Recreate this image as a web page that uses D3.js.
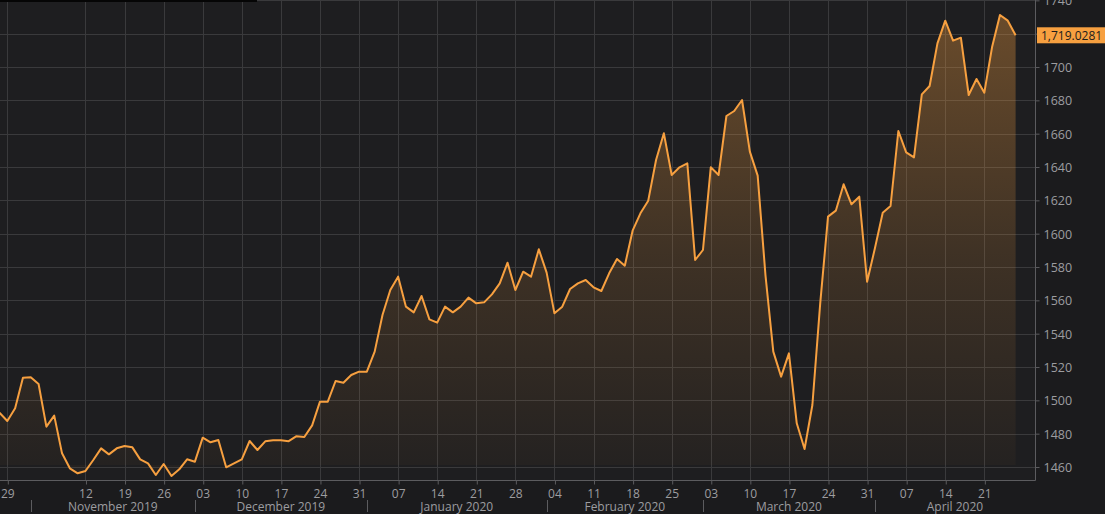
<!DOCTYPE html>
<html>
<head>
<meta charset="utf-8">
<script src="https://cdn.jsdelivr.net/npm/d3@7"></script>
<style>
  html, body { margin: 0; padding: 0; background: #1c1c1e; }
  svg { display: block; }
  text { font-family: "Open Sans", "Liberation Sans", sans-serif; }
</style>
</head>
<body>
<svg id="chart" width="1105" height="514"></svg>
<script>
// ---- data (trading days 28 Oct 2019 .. 27 Apr 2020) ----
const startDate = "2019-10-28";
const endDate = "2020-04-27";
const prices = [
  1492.6, 1487.6, 1495.2, 1513.6, 1513.8, 1509.8, 1484.2, 1490.8, 1468.2, 1459.2,
  1456.2, 1457.6, 1464.2, 1471.2, 1467.6, 1471.2, 1472.6, 1471.8, 1464.6, 1462.2,
  1455.2, 1461.8, 1454.6, 1458.6, 1464.6, 1463.2, 1477.6, 1474.8, 1476.2, 1459.8,
  1462.2, 1464.6, 1475.6, 1470.2, 1475.4, 1476.0, 1476.0, 1475.5, 1478.5, 1478.0,
  1485.0, 1499.2, 1499.2, 1511.6, 1510.6, 1515.2, 1517.2, 1517.2, 1529.2, 1551.2,
  1566.2, 1574.2, 1556.2, 1552.8, 1562.6, 1548.6, 1546.6, 1556.2, 1552.8, 1556.2,
  1561.6, 1558.2, 1558.8, 1563.6, 1570.2, 1582.6, 1566.2, 1577.2, 1574.2, 1590.6,
  1576.6, 1552.2, 1556.2, 1566.8, 1570.2, 1572.2, 1567.8, 1565.6, 1576.2, 1584.8,
  1580.8, 1601.8, 1612.2, 1619.8, 1644.2, 1660.2, 1635.2, 1639.8, 1642.2, 1584.2,
  1590.2, 1639.8, 1635.2, 1670.6, 1673.6, 1680.2, 1649.2, 1634.8, 1575.0, 1529.2,
  1514.2, 1528.2, 1486.2, 1470.8, 1497.2, 1558.0, 1610.2, 1613.8, 1629.6, 1617.6,
  1622.2, 1571.2, 1591.2, 1612.6, 1616.6, 1661.6, 1648.8, 1645.8, 1683.6, 1688.6,
  1714.2, 1727.8, 1715.8, 1717.6, 1683.2, 1692.8, 1684.6, 1712.2, 1731.2, 1727.8,
  1719.0281
];
const lastPriceLabel = "1,719.0281";
const yTicks = [1460, 1480, 1500, 1520, 1540, 1560, 1580, 1600, 1620, 1640, 1660, 1680, 1700, 1720, 1740];
const hiddenYLabels = [1720]; // covered by the last-price tag in the reference
const xTickDates = ["2019-10-29", "2019-11-12", "2019-11-19", "2019-11-26", "2019-12-03", "2019-12-10",
  "2019-12-17", "2019-12-24", "2019-12-31", "2020-01-07", "2020-01-14", "2020-01-21", "2020-01-28",
  "2020-02-04", "2020-02-11", "2020-02-18", "2020-02-25", "2020-03-03", "2020-03-10", "2020-03-17",
  "2020-03-24", "2020-03-31", "2020-04-07", "2020-04-14", "2020-04-21"];
const monthStarts = ["2019-11-01", "2019-12-02", "2020-01-01", "2020-02-03", "2020-03-02", "2020-04-01"];
const monthLabels = ["November 2019", "December 2019", "January 2020", "February 2020", "March 2020", "April 2020"];

// ---- layout ----
const W = 1105, H = 514;
const plotLeft = 0, plotRight = 1035, plotTop = 0, plotBottom = 480;
const parse = d3.utcParse("%Y-%m-%d");
const fmtKey = d3.utcFormat("%Y-%m-%d");
const days = d3.utcDay.range(parse(startDate), d3.utcDay.offset(parse(endDate), 1))
  .filter(d => d.getUTCDay() !== 0 && d.getUTCDay() !== 6);
const idxOf = {};
days.forEach((d, i) => idxOf[fmtKey(d)] = i);
const data = prices.map((v, i) => ({ i, date: days[i], v }));

const x = d3.scaleLinear().domain([0, prices.length - 1]).range([-0.5, 1015.6]);
const y = d3.scaleLinear().domain([1460, 1740]).range([467, 0.33]);

const ORANGE = "#f7a040";
const GRID = "#3a3a3c";
const TXT = "#9d9da0";

const svg = d3.select("#chart");
svg.append("rect").attr("width", W).attr("height", H).attr("fill", "#1b1b1d");
svg.append("rect").attr("x", plotLeft).attr("y", plotTop)
  .attr("width", plotRight - plotLeft).attr("height", plotBottom - plotTop).attr("fill", "#1e1e20");

const defs = svg.append("defs");
const grad = defs.append("linearGradient").attr("id", "areaGrad")
  .attr("gradientUnits", "userSpaceOnUse").attr("x1", 0).attr("y1", 0).attr("x2", 0).attr("y2", 465);
grad.append("stop").attr("offset", 0).attr("stop-color", ORANGE).attr("stop-opacity", 0.36);
grad.append("stop").attr("offset", 0.55).attr("stop-color", ORANGE).attr("stop-opacity", 0.15);
grad.append("stop").attr("offset", 1).attr("stop-color", ORANGE).attr("stop-opacity", 0.03);
defs.append("clipPath").attr("id", "plotClip").append("rect")
  .attr("x", plotLeft).attr("y", plotTop).attr("width", plotRight - plotLeft).attr("height", plotBottom - plotTop);

// grid
const g = svg.append("g").attr("clip-path", "url(#plotClip)");
g.selectAll("line.hg").data(yTicks).join("line")
  .attr("x1", plotLeft).attr("x2", plotRight)
  .attr("y1", d => Math.round(y(d)) + 0.5).attr("y2", d => Math.round(y(d)) + 0.5)
  .attr("stroke", GRID).attr("stroke-width", 1);
const tickIdx = xTickDates.map(s => idxOf[s]);
g.selectAll("line.vg").data(tickIdx).join("line")
  .attr("x1", d => Math.round(x(d)) + 0.5).attr("x2", d => Math.round(x(d)) + 0.5)
  .attr("y1", plotTop).attr("y2", plotBottom)
  .attr("stroke", GRID).attr("stroke-width", 1);

// area + line
const yBase = 465;
g.append("path").datum(data)
  .attr("d", d3.area().x(d => x(d.i)).y0(yBase).y1(d => y(d.v)))
  .attr("fill", "url(#areaGrad)");
g.append("path").datum(data)
  .attr("d", d3.line().x(d => x(d.i)).y(d => y(d.v)))
  .attr("fill", "none").attr("stroke", ORANGE).attr("stroke-width", 2).attr("stroke-linejoin", "round");

// plot borders
svg.append("line").attr("x1", plotRight + 0.5).attr("x2", plotRight + 0.5).attr("y1", 0).attr("y2", plotBottom + 0.5)
  .attr("stroke", "#5c5c5f");
svg.append("line").attr("x1", 0).attr("x2", plotRight + 0.5).attr("y1", plotBottom + 0.5).attr("y2", plotBottom + 0.5)
  .attr("stroke", "#5c5c5f");

// right y axis
const yAxis = d3.axisRight(y).tickValues(yTicks).tickSize(4).tickPadding(5)
  .tickFormat(d => hiddenYLabels.includes(d) ? "" : d3.format("d")(d));
const ya = svg.append("g").attr("transform", `translate(${plotRight + 0.5},0)`).call(yAxis);
ya.select(".domain").remove();
ya.selectAll("line").attr("stroke", "#5c5c5f");
ya.selectAll("text").attr("fill", TXT).attr("font-size", 12.5).attr("dy", "0.35em").attr("x", 8);

// bottom x axis (day numbers)
const xAxis = d3.axisBottom(x).tickValues(tickIdx).tickSize(4).tickPadding(5)
  .tickFormat(i => d3.utcFormat("%d")(days[i]));
const xa = svg.append("g").attr("transform", `translate(0,${plotBottom + 0.5})`).call(xAxis);
xa.select(".domain").remove();
xa.selectAll("line").attr("stroke", "#5c5c5f").attr("transform", "translate(0.5,0)");
xa.selectAll("text").attr("fill", TXT).attr("font-size", 12)
  .each(function(i) {
    const w = this.getComputedTextLength();
    if (x(i) - w / 2 < 0) d3.select(this).attr("text-anchor", "start");
  });

// month separators and labels
const mIdx = monthStarts.map(s => idxOf[s]);
svg.selectAll("line.ms").data(mIdx).join("line")
  .attr("x1", d => Math.round(x(d)) + 0.5).attr("x2", d => Math.round(x(d)) + 0.5)
  .attr("y1", 500).attr("y2", 512).attr("stroke", "#5c5c5f");
svg.selectAll("text.ml").data(monthLabels).join("text")
  .attr("x", (d, k) => {
    const a = x(mIdx[k]);
    const b = k + 1 < mIdx.length ? x(mIdx[k + 1]) : plotRight;
    return (a + b) / 2;
  })
  .attr("y", 511).attr("text-anchor", "middle").attr("fill", TXT).attr("font-size", 12)
  .text(d => d);

// last price tag
const lastY = y(prices[prices.length - 1]);
svg.append("rect").attr("x", plotRight + 2).attr("y", lastY - 8).attr("width", W - plotRight - 2).attr("height", 16)
  .attr("fill", ORANGE);
svg.append("text").attr("x", plotRight + 6).attr("y", lastY).attr("dy", "0.36em")
  .attr("fill", "#1c1c1c").attr("font-size", 12).text(lastPriceLabel);

// top-left overlay border remnant
svg.append("rect").attr("x", 0).attr("y", 0).attr("width", 257).attr("height", 2).attr("fill", "#050505");
</script>
</body>
</html>
